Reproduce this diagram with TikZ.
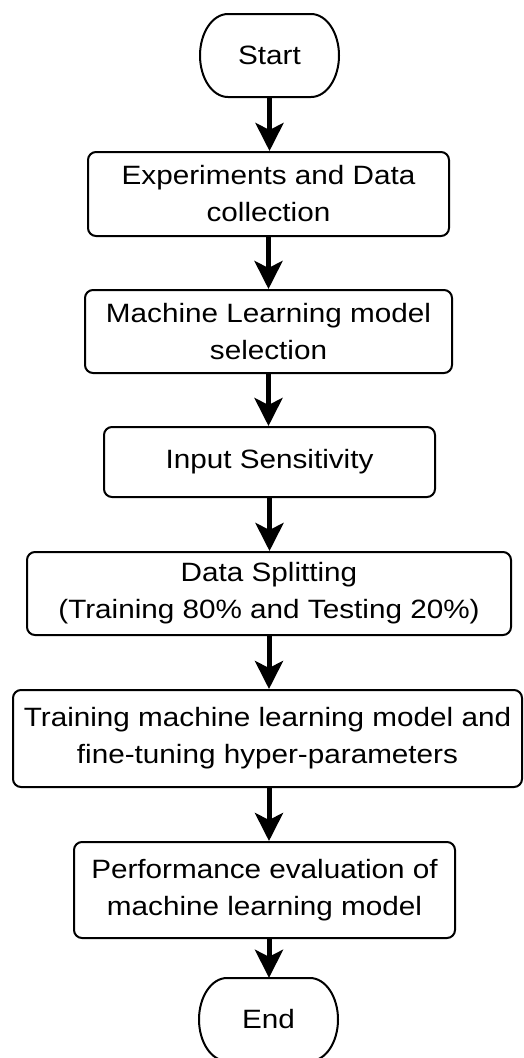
\documentclass[tikz,border=0pt]{standalone}
\usepackage{fontspec}
\setmainfont{Liberation Sans}[FakeStretch=1.12]
\usetikzlibrary{arrows.meta}
\begin{document}
\begin{tikzpicture}[x=1pt,y=-1pt,
  stepbox/.style={draw=black,line width=2pt,rounded corners=8pt,align=center,
    inner sep=0pt,font=\fontsize{26.5}{37}\selectfont},
  termtext/.style={inner sep=0pt,font=\fontsize{26.5}{37}\selectfont},
  termline/.style={draw=black,line width=2pt},
  arr/.style={line width=5pt,-{Stealth[length=28pt,width=28pt,inset=7pt]}}]
\useasboundingbox (0,0) rectangle (523,1058);
% terminals
\node[termtext,minimum width=139pt,minimum height=83pt] (start) at (269.5,55.5) {Start};
\node[termtext,minimum width=139pt,minimum height=83pt] (end) at (268.5,1019.5) {End};
\foreach \n in {start,end}{
  \begin{scope}[shift={(\n.center)}]
  \draw[termline] (-41.5,-41.5) -- (41.5,-41.5)
    .. controls (56.96,-41.5) and (69.5,-22.92) .. (69.5,0)
    .. controls (69.5,22.92) and (56.96,41.5) .. (41.5,41.5)
    -- (-41.5,41.5)
    .. controls (-56.96,41.5) and (-69.5,22.92) .. (-69.5,0)
    .. controls (-69.5,-22.92) and (-56.96,-41.5) .. (-41.5,-41.5) -- cycle;
  \end{scope}
}
% process boxes
\node[stepbox,minimum width=361pt,minimum height=84pt] (b1) at (268.5,194) {Experiments and Data\\collection};
\node[stepbox,minimum width=367pt,minimum height=83pt] (b2) at (268.5,331.5) {Machine Learning model\\selection};
\node[stepbox,minimum width=331pt,minimum height=70pt] (b3) at (269.5,462) {Input Sensitivity};
\node[stepbox,minimum width=484pt,minimum height=83pt] (b4) at (269,593.5) {Data Splitting\\(Training 80\% and Testing 20\%)};
\node[stepbox,minimum width=509pt,minimum height=97pt] (b5) at (267.5,738.5) {Training machine learning model and\\fine-tuning hyper-parameters};
\node[stepbox,minimum width=381pt,minimum height=96pt] (b6) at (264.5,890) {Performance evaluation of\\machine learning model};
% arrows
\draw[arr] (start.south) -- (start.south |- b1.north);
\draw[arr] (b1.south) -- (b1.south |- b2.north);
\draw[arr] (b2.south) -- (b2.south |- b3.north);
\draw[arr] (b3.south) -- (b3.south |- b4.north);
\draw[arr] (b4.south) -- (b4.south |- b5.north);
\draw[arr] ([xshift=1.5pt]b5.south) -- ([xshift=1.5pt]b5.south |- b6.north);
\draw[arr] ([xshift=4.5pt]b6.south) -- ([xshift=4.5pt]b6.south |- end.north);
\end{tikzpicture}
\end{document}
